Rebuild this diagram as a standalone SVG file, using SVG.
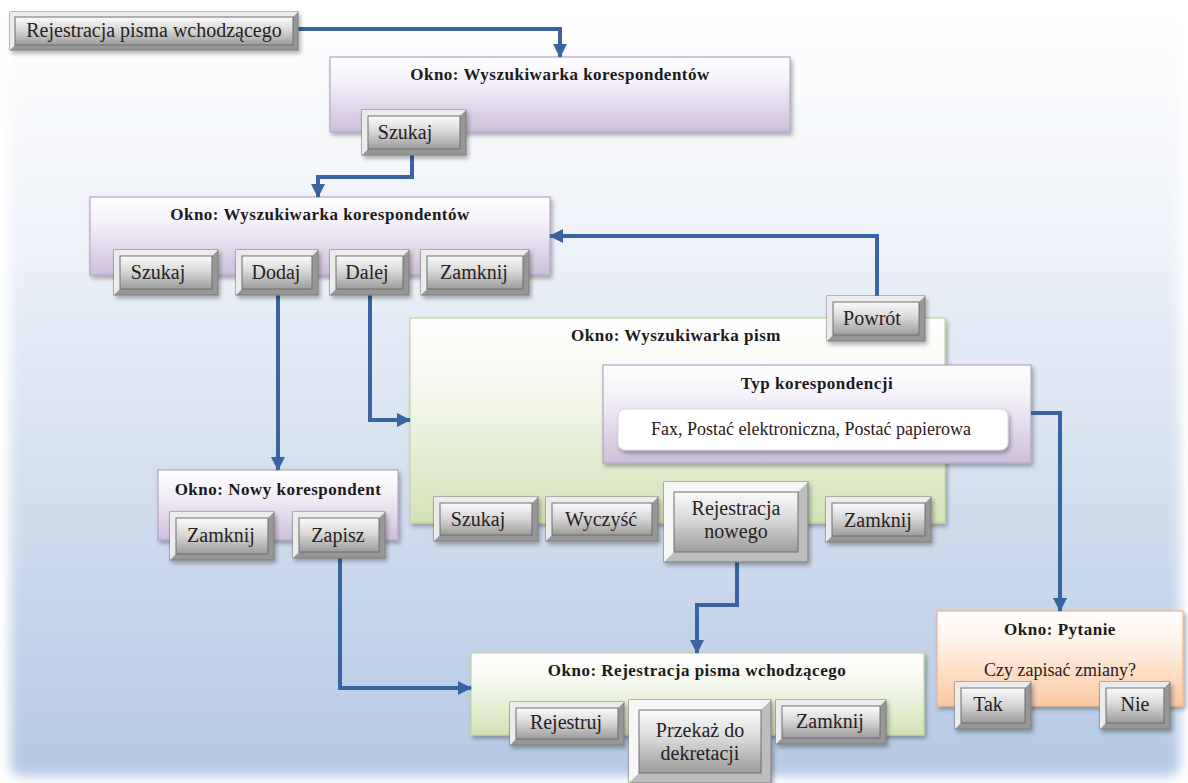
<svg xmlns="http://www.w3.org/2000/svg" width="1188" height="783" viewBox="0 0 1188 783">
  <defs>
    <linearGradient id="bg" x1="0" y1="0" x2="0" y2="1">
      <stop offset="0" stop-color="#ffffff"/>
      <stop offset="0.3" stop-color="#eef2f9"/>
      <stop offset="1" stop-color="#b4c9e3"/>
    </linearGradient>
    <linearGradient id="purple" x1="0" y1="0" x2="0" y2="1">
      <stop offset="0" stop-color="#ffffff"/>
      <stop offset="0.35" stop-color="#f3eff7"/>
      <stop offset="1" stop-color="#cdbfdc"/>
    </linearGradient>
    <linearGradient id="green" x1="0" y1="0" x2="0" y2="1">
      <stop offset="0" stop-color="#ffffff"/>
      <stop offset="0.35" stop-color="#f5f8ee"/>
      <stop offset="1" stop-color="#d3e2b6"/>
    </linearGradient>
    <linearGradient id="orange" x1="0" y1="0" x2="0" y2="1">
      <stop offset="0" stop-color="#ffffff"/>
      <stop offset="0.3" stop-color="#fef3ea"/>
      <stop offset="1" stop-color="#fbc8a2"/>
    </linearGradient>
    <linearGradient id="face" x1="0" y1="0" x2="0" y2="1">
      <stop offset="0" stop-color="#fbfbfb"/>
      <stop offset="0.45" stop-color="#d9d9d9"/>
      <stop offset="1" stop-color="#9c9c9c"/>
    </linearGradient>
    <filter id="blurEdge" x="-5%" y="-5%" width="110%" height="110%">
      <feGaussianBlur stdDeviation="6"/>
    </filter>
    <filter id="shadow" x="-10%" y="-10%" width="125%" height="135%">
      <feDropShadow dx="2" dy="3" stdDeviation="2" flood-color="#000" flood-opacity="0.3"/>
    </filter>
    <marker id="arrow" markerUnits="userSpaceOnUse" markerWidth="14" markerHeight="14" viewBox="0 0 14 14" refX="13" refY="7" orient="auto">
      <path d="M0,0 L14,7 L0,14 Z" fill="#3a64a0"/>
    </marker>
    <style>
      text { font-family: "Liberation Serif", "Times New Roman", serif; }
      .win { stroke-width: 1.2; filter: url(#shadow); }
      .wp { fill: url(#purple); stroke: #b3a3c8; }
      .wg { fill: url(#green); stroke: #c3d69b; }
      .wo { fill: url(#orange); stroke: #f2b48a; }
      .title { font-weight: bold; font-size: 17px; fill: #1a1a1a; text-anchor: middle; letter-spacing: 0.5px; }
      .label { font-size: 20px; fill: #2a2020; text-anchor: middle; }
      .plain { font-size: 18px; fill: #2a2020; text-anchor: middle; }
      .bo { fill: #979797; stroke: #7a7a7a; stroke-width: 1; filter: url(#shadow); }
      .big .bo { fill: #bdbdbd; }
      .bl { fill: #ececec; }
      .big .bl { fill: #f6f6f6; }
      .bf { fill: url(#face); stroke: #6f6f6f; stroke-width: 1; }
      .conn path { fill: none; stroke: #3a64a0; stroke-width: 4; marker-end: url(#arrow); }
    </style>
  </defs>

  <!-- page background -->
  <rect width="1188" height="783" fill="#ffffff"/>
  <rect x="10" y="8" width="1170" height="768" rx="10" fill="url(#bg)" filter="url(#blurEdge)"/>

  <!-- windows -->
  <g id="win-search-1">
    <rect class="win wp" x="330" y="57" width="460" height="75"/>
    <text class="title" x="560" y="80">Okno: Wyszukiwarka korespondentów</text>
  </g>
  <g id="win-search-2">
    <rect class="win wp" x="90" y="197" width="460" height="78"/>
    <text class="title" x="320" y="220">Okno: Wyszukiwarka korespondentów</text>
  </g>
  <g id="win-letters">
    <rect class="win wg" x="410" y="318" width="535" height="205"/>
    <text class="title" x="676" y="341">Okno: Wyszukiwarka pism</text>
  </g>
  <g id="type-box">
    <rect class="win wp" x="603" y="365" width="428" height="98"/>
    <text class="title" x="817" y="389">Typ korespondencji</text>
    <rect x="618" y="409" width="390" height="41" rx="7" fill="#ffffff" stroke="#d8d0e2" filter="url(#shadow)"/>
    <text class="plain" x="811" y="435">Fax, Postać elektroniczna, Postać papierowa</text>
  </g>
  <g id="win-new">
    <rect class="win wp" x="158" y="470" width="240" height="70"/>
    <text class="title" x="278" y="495">Okno: Nowy korespondent</text>
  </g>
  <g id="win-register">
    <rect class="win wg" x="471" y="653" width="453" height="82"/>
    <text class="title" x="697" y="676">Okno: Rejestracja pisma wchodzącego</text>
  </g>
  <g id="win-question">
    <rect class="win wo" x="937" y="611" width="246" height="95"/>
    <text class="title" x="1060" y="635">Okno: Pytanie</text>
    <text class="plain" x="1060" y="676">Czy zapisać zmiany?</text>
  </g>

  <!-- connectors -->
  <g class="conn" id="connectors">
    <path d="M298,29 H560 V57"/>
    <path d="M412,155 V177 H318 V197"/>
    <path d="M877,296 V236 H550"/>
    <path d="M278,295 V470"/>
    <path d="M370,295 V420 H410"/>
    <path d="M1031,413 H1060 V611"/>
    <path d="M737,562 V605 H697 V653"/>
    <path d="M340,558 V688 H471"/>
  </g>

  <!-- buttons -->
  <g id="btn-start">
    <rect class="bo" x="10" y="12" width="288" height="38"/>
    <path class="bl" d="M10,12 h288 l-5,5 h-278 v28 l-5,5 z"/>
    <rect class="bf" x="15" y="17" width="278" height="28"/>
    <text class="label" x="154" y="37">Rejestracja pisma wchodzącego</text>
  </g>
  <g id="btn-search-1">
    <rect class="bo" x="362" y="110" width="104" height="45"/>
    <path class="bl" d="M362,110 h104 l-6,6 h-92 v33 l-6,6 z"/>
    <rect class="bf" x="368" y="116" width="92" height="33"/>
    <text class="label" x="405" y="139">Szukaj</text>
  </g>
  <g id="btn-search-2">
    <rect class="bo" x="114" y="250" width="104" height="45"/>
    <path class="bl" d="M114,250 h104 l-6,6 h-92 v33 l-6,6 z"/>
    <rect class="bf" x="120" y="256" width="92" height="33"/>
    <text class="label" x="158" y="279">Szukaj</text>
  </g>
  <g id="btn-add">
    <rect class="bo" x="236" y="250" width="82" height="45"/>
    <path class="bl" d="M236,250 h82 l-6,6 h-70 v33 l-6,6 z"/>
    <rect class="bf" x="242" y="256" width="70" height="33"/>
    <text class="label" x="276" y="279">Dodaj</text>
  </g>
  <g id="btn-next">
    <rect class="bo" x="330" y="250" width="79" height="45"/>
    <path class="bl" d="M330,250 h79 l-6,6 h-67 v33 l-6,6 z"/>
    <rect class="bf" x="336" y="256" width="67" height="33"/>
    <text class="label" x="367" y="279">Dalej</text>
  </g>
  <g id="btn-close-2">
    <rect class="bo" x="421" y="250" width="108" height="45"/>
    <path class="bl" d="M421,250 h108 l-6,6 h-96 v33 l-6,6 z"/>
    <rect class="bf" x="427" y="256" width="96" height="33"/>
    <text class="label" x="474" y="279">Zamknij</text>
  </g>
  <g id="btn-back">
    <rect class="bo" x="827" y="296" width="98" height="45"/>
    <path class="bl" d="M827,296 h98 l-6,6 h-86 v33 l-6,6 z"/>
    <rect class="bf" x="833" y="302" width="86" height="33"/>
    <text class="label" x="872" y="325">Powrót</text>
  </g>
  <g id="btn-search-3">
    <rect class="bo" x="434" y="497" width="104" height="44"/>
    <path class="bl" d="M434,497 h104 l-6,6 h-92 v32 l-6,6 z"/>
    <rect class="bf" x="440" y="503" width="92" height="32"/>
    <text class="label" x="478" y="526">Szukaj</text>
  </g>
  <g id="btn-clear">
    <rect class="bo" x="546" y="497" width="112" height="44"/>
    <path class="bl" d="M546,497 h112 l-6,6 h-100 v32 l-6,6 z"/>
    <rect class="bf" x="552" y="503" width="100" height="32"/>
    <text class="label" x="601" y="526">Wyczyść</text>
  </g>
  <g id="btn-register-new" class="big">
    <rect class="bo" x="664" y="482" width="144" height="80"/>
    <path class="bl" d="M664,482 h144 l-10,10 h-124 v60 l-10,10 z"/>
    <rect class="bf" x="674" y="492" width="124" height="60"/>
    <text class="label" x="736" y="515">Rejestracja</text>
    <text class="label" x="736" y="538">nowego</text>
  </g>
  <g id="btn-close-3">
    <rect class="bo" x="826" y="497" width="105" height="45"/>
    <path class="bl" d="M826,497 h105 l-6,6 h-93 v33 l-6,6 z"/>
    <rect class="bf" x="832" y="503" width="93" height="33"/>
    <text class="label" x="878" y="527">Zamknij</text>
  </g>
  <g id="btn-close-4">
    <rect class="bo" x="170" y="512" width="104" height="48"/>
    <path class="bl" d="M170,512 h104 l-6,6 h-92 v36 l-6,6 z"/>
    <rect class="bf" x="176" y="518" width="92" height="36"/>
    <text class="label" x="221" y="542">Zamknij</text>
  </g>
  <g id="btn-save">
    <rect class="bo" x="293" y="512" width="92" height="46"/>
    <path class="bl" d="M293,512 h92 l-6,6 h-80 v34 l-6,6 z"/>
    <rect class="bf" x="299" y="518" width="80" height="34"/>
    <text class="label" x="338" y="542">Zapisz</text>
  </g>
  <g id="btn-register">
    <rect class="bo" x="510" y="702" width="114" height="43"/>
    <path class="bl" d="M510,702 h114 l-6,6 h-102 v31 l-6,6 z"/>
    <rect class="bf" x="516" y="708" width="102" height="31"/>
    <text class="label" x="566" y="729">Rejestruj</text>
  </g>
  <g id="btn-forward" class="big">
    <rect class="bo" x="629" y="700" width="142" height="83"/>
    <path class="bl" d="M629,700 h142 l-10,10 h-122 v63 l-10,10 z"/>
    <rect class="bf" x="639" y="710" width="122" height="63"/>
    <text class="label" x="700" y="737">Przekaż do</text>
    <text class="label" x="700" y="760">dekretacji</text>
  </g>
  <g id="btn-close-5">
    <rect class="bo" x="776" y="700" width="110" height="44"/>
    <path class="bl" d="M776,700 h110 l-6,6 h-98 v32 l-6,6 z"/>
    <rect class="bf" x="782" y="706" width="98" height="32"/>
    <text class="label" x="830" y="728">Zamknij</text>
  </g>
  <g id="btn-yes">
    <rect class="bo" x="955" y="682" width="76" height="47"/>
    <path class="bl" d="M955,682 h76 l-6,6 h-64 v35 l-6,6 z"/>
    <rect class="bf" x="961" y="688" width="64" height="35"/>
    <text class="label" x="988" y="711">Tak</text>
  </g>
  <g id="btn-no">
    <rect class="bo" x="1100" y="682" width="70" height="47"/>
    <path class="bl" d="M1100,682 h70 l-6,6 h-58 v35 l-6,6 z"/>
    <rect class="bf" x="1106" y="688" width="58" height="35"/>
    <text class="label" x="1135" y="711">Nie</text>
  </g>
</svg>
